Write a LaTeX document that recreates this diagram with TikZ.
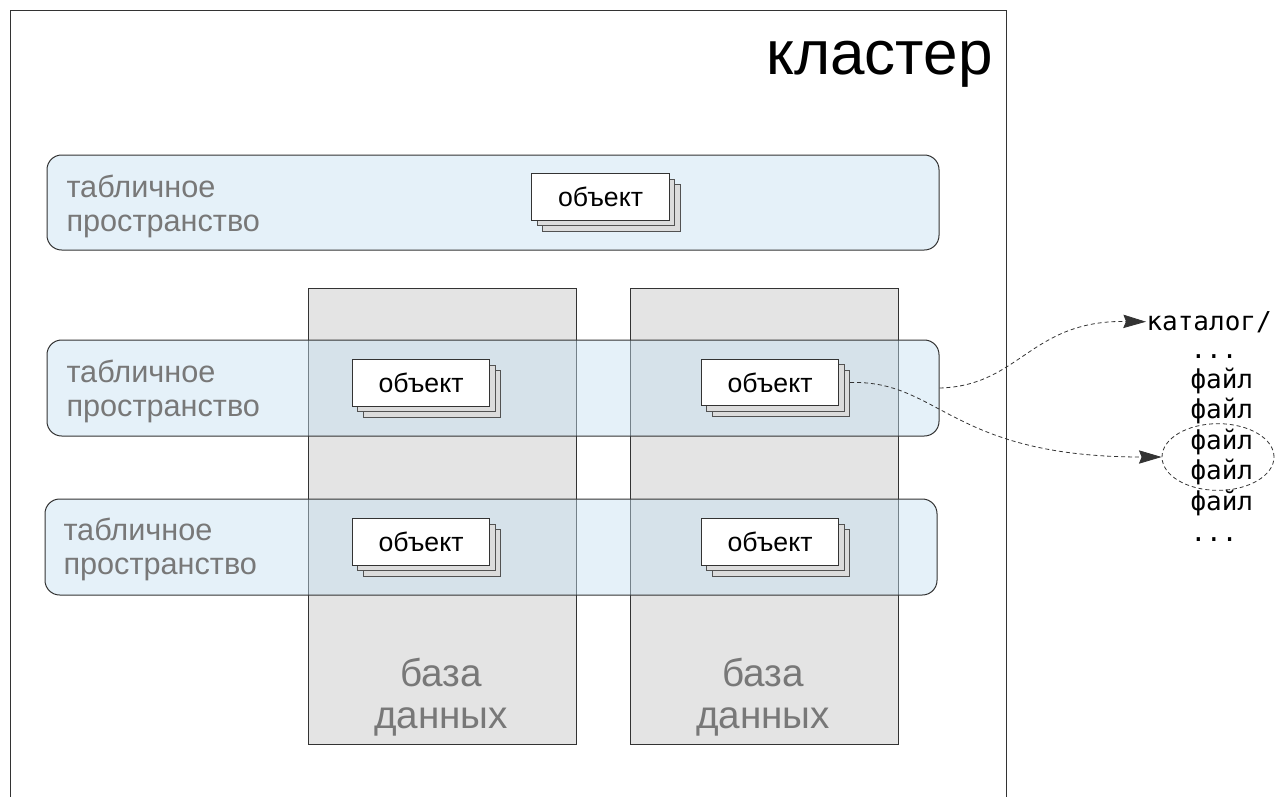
\documentclass[tikz,border=0pt]{standalone}
\usepackage{fontspec}
\setmainfont{Liberation Sans}
\newfontfamily\monof{DejaVu Sans Mono}
\usetikzlibrary{arrows.meta,shapes.geometric}
\definecolor{tsfill}{RGB}{197,224,242}
\definecolor{dbfill}{RGB}{228,228,228}
\definecolor{lbl}{RGB}{120,120,120}
\definecolor{edge}{RGB}{51,51,51}
\definecolor{backfill}{RGB}{220,220,220}
\newcommand\objstack[3]{%
  \node[objback] (#1b2) at (#2+11,#3+11) {};
  \node[objback] (#1b1) at (#2+5.5,#3+5.5) {};
  \node[obj] (#1) at (#2,#3) {объект};
}
\begin{document}
\begin{tikzpicture}[x=0.75pt,y=-0.75pt,line width=0.75pt,
  clusterbox/.style={draw=edge,minimum width=747pt,minimum height=620pt,anchor=north west,inner sep=0pt},
  tspace/.style={draw=edge,fill=tsfill,fill opacity=0.45,rounded corners=11pt,inner sep=0pt,minimum width=669pt},
  dbase/.style={draw=edge,fill=dbfill,inner sep=0pt,minimum width=201pt,minimum height=342pt},
  obj/.style={draw=edge,fill=white,minimum width=103pt,minimum height=35pt,inner sep=0pt,font=\fontsize{20}{24}\selectfont},
  objback/.style={draw=edge!85,fill=backfill,minimum width=103pt,minimum height=35pt,inner sep=0pt},
  tslabel/.style={text=lbl,align=left,anchor=west,inner sep=0pt,font=\fontsize{23}{25.5}\selectfont},
  dblabel/.style={text=lbl,align=center,inner sep=0pt,font=\fontsize{29}{31.5}\selectfont},
  fileline/.style={anchor=base west,inner sep=0pt,font=\monof\fontsize{19.5}{21}\selectfont},
  dashline/.style={draw=edge,dash pattern=on 3pt off 2.2pt,line width=0.6pt},
  link/.style={dashline,-{Stealth[length=17pt,width=10pt,inset=2pt]}}
]
\useasboundingbox (0,0) rectangle (1276,796);
\clip (0,0) rectangle (1276,796);

% cluster
\node[clusterbox] (cluster) at (10,10) {};
\node[anchor=base east,inner sep=0pt,font=\fontsize{46.5}{50}\selectfont] (title) at (993,74) {кластер};

% databases
\node[dbase] (db1) at (442,516) {};
\node[dbase] (db2) at (764,516) {};

% tablespaces
\node[tspace,minimum height=71.25pt] (ts1) at (493,202.5) {};
\node[tspace,minimum height=72pt] (ts2) at (493,388) {};
\node[tspace,minimum height=72pt] (ts3) at (491,547) {};

\node[tslabel] (ts1l) at (66,206) {табличное\\пространство};
\node[tslabel] (ts2l) at (66,391) {табличное\\пространство};
\node[tslabel] (ts3l) at (63,549) {табличное\\пространство};

\node[dblabel] (db1l) at (441,697) {база\\данных};
\node[dblabel] (db2l) at (763,697) {база\\данных};

% objects
\objstack{o1}{600.5}{197}
\objstack{o2}{421}{383}
\objstack{o3}{770}{382.5}
\objstack{o4}{421}{542}
\objstack{o5}{770}{542}

% files
\node[fileline] (cat) at (1146,330) {каталог/};
\node[fileline] (f0) at (1190,358) {...};
\node[fileline] (f1) at (1190,388) {файл};
\node[fileline] (f2) at (1190,418) {файл};
\node[fileline] (f3) at (1190,449) {файл};
\node[fileline] (f4) at (1190,479) {файл};
\node[fileline] (f5) at (1190,510) {файл};
\node[fileline] (f6) at (1190,541) {...};
\node[dashline,ellipse,minimum width=84pt,minimum height=50pt,inner sep=0pt] (sel) at (1218,457) {};

% links
\coordinate (o3out) at (o3.east -| o3b2.east);
\draw[link] (ts2.east) .. controls (1020,386) and (1030,320) .. (cat.west);
\draw[link] (o3out) .. controls (940,380) and (950,457) .. (sel.west);
\end{tikzpicture}
\end{document}
